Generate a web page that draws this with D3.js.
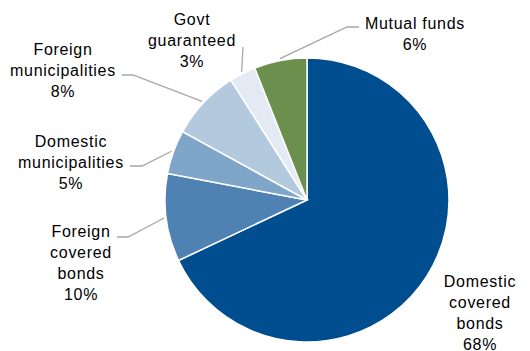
<!DOCTYPE html>
<meta charset="utf-8">
<head>
    <title>Holdings pie</title>
    <script type="text/javascript" src="https://cdn.jsdelivr.net/npm/d3@7"></script>
    <style>
        body { margin: 0; background: #ffffff; }
        .lbl { font-family: "Liberation Sans", Arial, sans-serif; font-size: 16px; fill: #000000; letter-spacing: 0.7px; }
        .leader { fill: none; stroke: #a6a6a6; stroke-width: 1.3px; }
    </style>
</head>
<body>
    <div id="chart"></div>
    <script>
        // data, clockwise from 12 o'clock
        var categories = ["Domestic covered bonds", "Foreign covered bonds", "Domestic municipalities",
                          "Foreign municipalities", "Govt guaranteed", "Mutual funds"]
        var shares = [68, 10, 5, 8, 3, 6]
        var labelLines = [
          ["Domestic", "covered", "bonds", "68%"],
          ["Foreign", "covered", "bonds", "10%"],
          ["Domestic", "municipalities", "5%"],
          ["Foreign", "municipalities", "8%"],
          ["Govt", "guaranteed", "3%"],
          ["Mutual funds", "6%"]
        ]
        var colors = ["#004d8f", "#4f81b3", "#7fa6c8", "#b3c9dd", "#e3eaf3", "#6b8f4d"]

        // layout: label centre x, first baseline y, elbow point (null = no leader)
        var labelPos = [
          {x: 480, y: 287, elbow: null},
          {x: 81, y: 237, elbow: [128, 237], end: [117, 237]},
          {x: 71, y: 147, elbow: [142, 166], end: [130, 166]},
          {x: 63, y: 55, elbow: [133, 75], end: [122, 75]},
          {x: 192, y: 25, elbow: [243, 47], end: [243, 47]},
          {x: 415, y: 29, elbow: [347, 27], end: [359, 27]}
        ]

        var width = 530, height = 351
        var cx = 307, cy = 200, radius = 142
        var lineH = 21

        var svg = d3.select("#chart").append("svg")
          .attr("width", width)
          .attr("height", height)

        var pie = d3.pie().sort(null).value(function(d){ return d })
        var arcs = pie(shares)
        var arc = d3.arc().innerRadius(0).outerRadius(radius)
        var edge = d3.arc().innerRadius(radius + 2).outerRadius(radius + 2)

        var g = svg.append("g").attr("transform", "translate(" + cx + "," + cy + ")")

        g.selectAll("path.slice")
          .data(arcs)
          .enter()
            .append("path")
              .attr("class", "slice")
              .attr("d", arc)
              .style("fill", function(d, i){ return colors[i] })
              .style("stroke", "#ffffff")
              .style("stroke-width", 1.5)

        // leader lines
        svg.selectAll("polyline.leader")
          .data(arcs.filter(function(d, i){ return labelPos[i].elbow }))
          .enter()
            .append("polyline")
              .attr("class", "leader")
              .attr("points", function(d){
                var p = labelPos[d.index]
                var a = (d.startAngle + d.endAngle) / 2
                var s = [cx + (radius + 2) * Math.sin(a), cy - (radius + 2) * Math.cos(a)]
                return [s, p.elbow, p.end].map(function(q){ return q.join(",") }).join(" ")
              })

        // labels
        var labels = svg.selectAll("text.lbl")
          .data(categories)
          .enter()
            .append("text")
              .attr("class", "lbl")
              .attr("text-anchor", "middle")
              .attr("x", function(d, i){ return labelPos[i].x })
              .attr("y", function(d, i){ return labelPos[i].y })

        labels.selectAll("tspan")
          .data(function(d, i){ return labelLines[i].map(function(t){ return {t: t, i: i} }) })
          .enter()
            .append("tspan")
              .attr("x", function(d){ return labelPos[d.i].x })
              .attr("dy", function(d, j){ return j == 0 ? 0 : lineH })
              .text(function(d){ return d.t })
    </script>
</body>
</html>
